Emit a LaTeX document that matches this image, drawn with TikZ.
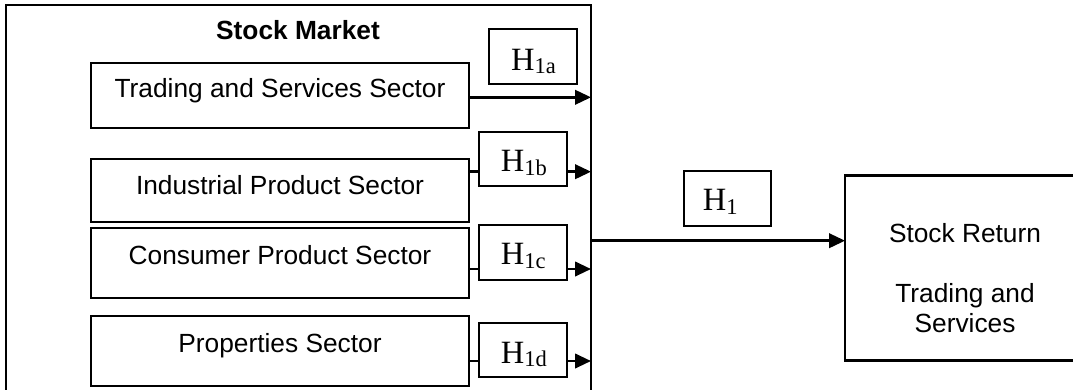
\documentclass[tikz,border=0pt]{standalone}
\usepackage{fontspec}
\setmainfont{Liberation Sans}
\newfontfamily\tnr{Liberation Serif}
\usetikzlibrary{arrows.meta}
\begin{document}
\begin{tikzpicture}[x=1pt,y=-1pt,
  box/.style={draw=black,line width=2.1pt,inner sep=0pt,outer sep=0pt,rectangle},
  stext/.style={inner sep=0pt,anchor=base,font=\fontsize{26.3}{30}\selectfont},
  hlab/.style={inner sep=0pt,anchor=base west,font=\tnr\fontsize{32.5}{34}\selectfont},
  conn/.style={draw=black,line width=2.5pt},
  arr/.style={draw=black,line width=2.5pt,-{Triangle[length=16pt,width=14.5pt]}}]
\newcommand{\hsub}[1]{H\raisebox{-3.5pt}{\fontsize{22.5}{22}\selectfont #1}}
\fill[white] (0,0) rectangle (1073,389);
\clip (0,0) rectangle (1073,389);
% outer box
\node[box,minimum width=585.3pt,minimum height=395.4pt] (outer) at (298.35,202.3) {};
\node[stext,font=\bfseries\fontsize{26.3}{30}\selectfont] (title) at (298,39.3) {Stock Market};
% sector boxes
\node[box,minimum width=378.6pt,minimum height=65pt] (trade) at (280,95.2) {};
\node[box,minimum width=378.6pt,minimum height=63.3pt] (ind) at (280,190.65) {};
\node[box,minimum width=378.6pt,minimum height=69.7pt] (cons) at (280,263.15) {};
\node[box,minimum width=378.6pt,minimum height=69.4pt] (prop) at (280,351) {};
\node[stext] (tradeT) at (280,97) {Trading and Services Sector};
\node[stext] (indT) at (280,194.3) {Industrial Product Sector};
\node[stext] (consT) at (280,264) {Consumer Product Sector};
\node[stext] (propT) at (280,352.7) {Properties Sector};
% hypothesis boxes
\node[box,minimum width=87.4pt,minimum height=54.7pt] (hA) at (533,56.65) {};
\node[box,minimum width=87.4pt,minimum height=54pt] (hB) at (523,159) {};
\node[box,minimum width=87.4pt,minimum height=55pt] (hC) at (523,252.2) {};
\node[box,minimum width=87.4pt,minimum height=54.3pt] (hD) at (523,350.15) {};
\node[box,minimum width=86.7pt,minimum height=55.3pt] (hM) at (727.35,198.35) {};
\node[hlab] (hAT) at (511,70) {\hsub{1a}};
\node[hlab] (hBT) at (500.7,171.7) {\hsub{1b}};
\node[hlab] (hCT) at (500.7,264.7) {\hsub{1c}};
\node[hlab] (hDT) at (500.7,363.3) {\hsub{1d}};
\node[hlab] (hMT) at (702.7,210.7) {\hsub{1}};
% return box
\node[box,minimum width=240pt,minimum height=185pt] (ret) at (965,268) {};
\node[stext] (retA) at (965,242.3) {Stock Return};
\node[stext] (retB) at (965,302.7) {Trading and};
\node[stext] (retC) at (965,332.7) {Services};
% connectors
\draw[arr] (trade.east |- 0,97.3) -- (outer.east |- 0,97.3);
\draw[conn] (ind.east |- 0,171.7) -- (hB.west |- 0,171.7);
\draw[arr] (hB.east |- 0,171.7) -- (outer.east |- 0,171.7);
\draw[conn] (cons.east |- 0,269) -- (hC.west |- 0,269);
\draw[arr] (hC.east |- 0,269) -- (outer.east |- 0,269);
\draw[conn] (prop.east |- 0,361) -- (hD.west |- 0,361);
\draw[arr] (hD.east |- 0,361) -- (outer.east |- 0,361);
\draw[arr] (outer.east |- 0,240.7) -- (ret.west |- 0,240.7);
\end{tikzpicture}
\end{document}
